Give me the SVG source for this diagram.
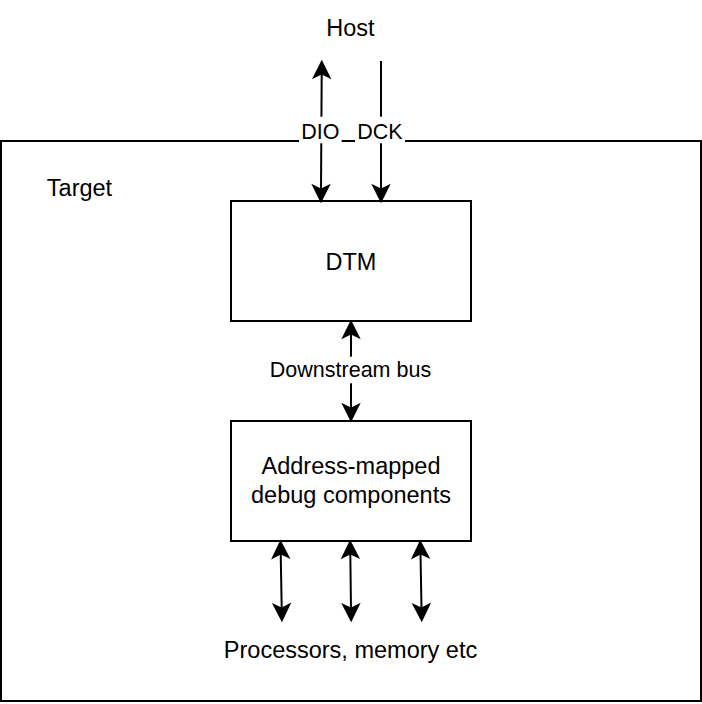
<svg xmlns="http://www.w3.org/2000/svg" width="702" height="704" viewBox="0 0 702 704">
  <style>
    .box { fill: #ffffff; stroke: #000000; stroke-width: 2; }
    .frame { fill: #ffffff; stroke: #000000; stroke-width: 2; }
    .lbl { font-family: "Liberation Sans", Arial, Helvetica, sans-serif; font-size: 23.5px; fill: #000000; text-anchor: middle; }
    .elbl { font-family: "Liberation Sans", Arial, Helvetica, sans-serif; font-size: 21.5px; fill: #000000; text-anchor: middle; }
    .edge { fill: none; stroke: #000000; stroke-width: 2; }
    .bg { fill: #ffffff; stroke: none; }
  </style>
  <defs>
    <marker id="arrow" markerUnits="userSpaceOnUse" markerWidth="20" markerHeight="20" viewBox="-2 -10 20 20" refX="3.75" refY="0" orient="auto-start-reverse" overflow="visible">
      <path d="M15,0 L0,-7.5 L3.75,0 L0,7.5 Z" fill="#000000" stroke="#000000" stroke-width="2"/>
    </marker>
  </defs>
  <rect width="702" height="704" fill="#ffffff"/>

  <g id="target">
    <rect class="frame" x="1" y="141" width="700" height="560"/>
    <text class="lbl" x="79.5" y="196">Target</text>
  </g>

  <g id="host">
    <text class="lbl" x="350.5" y="36">Host</text>
  </g>

  <g id="dtm">
    <rect class="box" x="231" y="201" width="240" height="120"/>
    <text class="lbl" x="351" y="269.5">DTM</text>
  </g>

  <g id="debug-components">
    <rect class="box" x="231" y="421" width="240" height="120"/>
    <text class="lbl" x="351" y="474.3">Address-mapped</text>
    <text class="lbl" x="351" y="502.7">debug components</text>
  </g>

  <g id="processors">
    <text class="lbl" x="350.5" y="658.3">Processors, memory etc</text>
  </g>

  <g id="connectors">
    <!-- DIO: bidirectional Host <-> DTM -->
    <path class="edge" d="M321.7,73.25 L321,189.75" marker-start="url(#arrow)" marker-end="url(#arrow)"/>
    <!-- DCK: Host -> DTM -->
    <path class="edge" d="M381,61 L381,189.75" marker-end="url(#arrow)"/>
    <!-- Downstream bus -->
    <path class="edge" d="M351,333.25 L351,408.75" marker-start="url(#arrow)" marker-end="url(#arrow)"/>
    <!-- To processors/memory -->
    <path class="edge" d="M280.7,553.25 L281.7,608.75" marker-start="url(#arrow)" marker-end="url(#arrow)"/>
    <path class="edge" d="M350.3,553.25 L351,608.75" marker-start="url(#arrow)" marker-end="url(#arrow)"/>
    <path class="edge" d="M420.5,553.25 L421.5,608.75" marker-start="url(#arrow)" marker-end="url(#arrow)"/>

    <rect class="bg" x="299" y="116.7" width="42.7" height="26.6"/>
    <text class="elbl" x="320.3" y="139.3">DIO</text>
    <rect class="bg" x="355" y="116.7" width="50" height="26.6"/>
    <text class="elbl" x="380" y="139.3">DCK</text>
    <rect class="bg" x="266" y="356.7" width="170" height="26.6"/>
    <text class="elbl" x="350.5" y="377.3">Downstream bus</text>
  </g>
</svg>
